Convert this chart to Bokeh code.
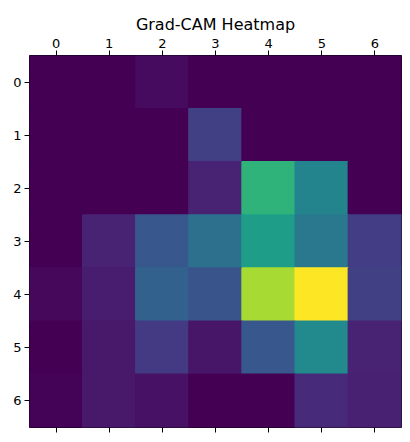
from bokeh.plotting import figure
from bokeh.models import LinearColorMapper, ColumnDataSource, LinearAxis, FixedTicker
from bokeh.transform import transform
from bokeh.palettes import Viridis256
from bokeh.embed import file_html
from bokeh.resources import INLINE

# Grad-CAM values (rows top→bottom, columns left→right), normalized 0..1
row0 = [0.00, 0.00, 0.03, 0.00, 0.00, 0.00, 0.00]
row1 = [0.00, 0.00, 0.00, 0.19, 0.00, 0.00, 0.00]
row2 = [0.00, 0.00, 0.00, 0.10, 0.65, 0.45, 0.00]
row3 = [0.00, 0.10, 0.27, 0.37, 0.56, 0.40, 0.18]
row4 = [0.02, 0.08, 0.31, 0.26, 0.87, 1.00, 0.19]
row5 = [0.00, 0.07, 0.17, 0.06, 0.27, 0.48, 0.10]
row6 = [0.01, 0.07, 0.05, 0.00, 0.00, 0.12, 0.09]
rows = [row0, row1, row2, row3, row4, row5, row6]
tick_labels = ["0", "1", "2", "3", "4", "5", "6"]

xs, ys, vs = [], [], []
for r, row in enumerate(rows):
    for c, v in enumerate(row):
        xs.append(c)
        ys.append(r)
        vs.append(v)
src = ColumnDataSource(dict(x=xs, y=ys, v=vs))

mapper = LinearColorMapper(palette=Viridis256, low=min(vs), high=max(vs))

p = figure(width=410, height=442, frame_width=372, frame_height=372,
           x_range=(-0.5, 6.5), y_range=(6.5, -0.5),
           x_axis_location="above", output_backend="svg", toolbar_location=None,
           title="Grad-CAM Heatmap", min_border_left=29, min_border_right=9,
           min_border_top=55, min_border_bottom=15)
p.rect(x="x", y="y", width=1, height=1, source=src,
       fill_color=transform("v", mapper), line_color=transform("v", mapper), line_width=1.5)

p.grid.visible = False
p.outline_line_color = "black"
p.outline_line_width = 1
p.background_fill_color = "white"
p.border_fill_color = "white"

p.title.text_font = "DejaVu Sans"
p.title.text_font_size = "16px"
p.title.text_font_style = "normal"
p.title.align = "center"
p.title.text_color = "black"
p.title.standoff = 4

bottom = LinearAxis()
p.add_layout(bottom, "below")

for ax in [p.xaxis[0], p.yaxis[0], bottom]:
    ax.ticker = FixedTicker(ticks=list(range(7)))
    ax.major_tick_out = 5
    ax.major_tick_in = 0
    ax.minor_tick_out = 0
    ax.minor_tick_in = 0
    ax.axis_line_color = None
    ax.major_tick_line_color = "black"
    ax.major_label_text_font = "DejaVu Sans"
    ax.major_label_text_font_size = "13px"
    ax.major_label_text_color = "black"
    ax.major_label_standoff = 3
    ax.major_label_overrides = {i: t for i, t in enumerate(tick_labels)}
p.yaxis[0].major_label_orientation = "horizontal"
bottom.major_label_overrides = {i: "" for i in range(7)}
bottom.major_label_text_font_size = "0px"
bottom.major_label_standoff = 0

open("out.html", "w").write(file_html(p, INLINE))
